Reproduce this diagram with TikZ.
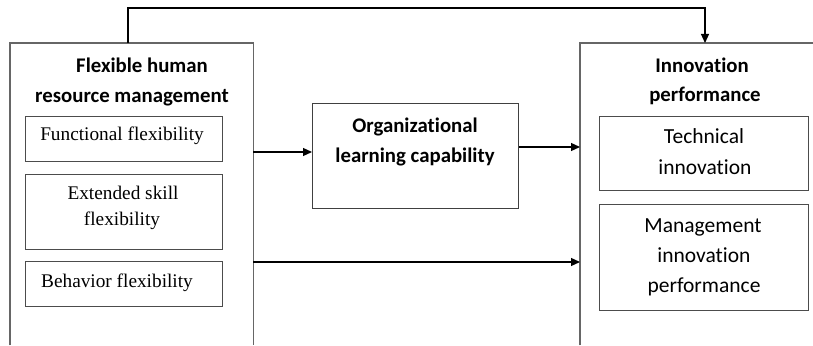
\documentclass[tikz,border=0pt]{standalone}
\usepackage{fontspec}
\setmainfont[Ligatures=NoCommon]{Liberation Serif}
\newfontfamily\carl[Ligatures=NoCommon]{Carlito}
\usetikzlibrary{arrows.meta}
\tikzset{
  outerbox/.style={draw=none, rectangle, inner sep=0pt, anchor=north west},
  outerline/.style={draw=black!60, line width=1.1pt},
  innerbox/.style={draw=black!70, line width=1.3pt, rectangle, inner sep=0pt, anchor=north west},
  midbox/.style={draw=black!75, line width=1.2pt, rectangle, inner sep=0pt, anchor=north west},
  ttl/.style={font=\carl\bfseries\fontsize{20.8}{24}\selectfont, anchor=base, inner sep=0pt},
  sertxt/.style={font=\fontsize{19.3}{23}\selectfont, anchor=base, inner sep=0pt},
  sanstxt/.style={font=\carl\fontsize{21.5}{24}\selectfont, anchor=base, inner sep=0pt},
  arr/.style={draw=black, line width=1.2pt, -{Triangle[length=9pt,width=8pt]}}
}
\begin{document}
\begin{tikzpicture}[x=1pt,y=-1pt]
\useasboundingbox[fill=white] (0,0) rectangle (813,345);
% outer boxes
\node[outerbox, minimum width=243pt, minimum height=302pt] (lbox) at (10,43) {};
\node[outerbox, minimum width=233pt, minimum height=302pt] (rbox) at (580,43) {};
\draw[outerline] (lbox.south west) -- (lbox.north west) -- (lbox.north east) -- (lbox.south east);
\draw[outerline] (rbox.south west) -- (rbox.north west) -- (rbox.north east);
% left titles
\node[ttl] (lt1) at (142,73) {Flexible human};
\node[ttl] (lt2) at (132,102) {resource management};
% left inner boxes
\node[innerbox, minimum width=197pt, minimum height=45pt] (fun) at (25,116) {};
\node[sertxt] (funt) at (122,140) {Functional flexibility};
\node[innerbox, minimum width=197pt, minimum height=75pt] (ext) at (25,174) {};
\node[sertxt] (ext1) at (123,199) {Extended skill};
\node[sertxt] (ext2) at (122,225) {flexibility};
\node[innerbox, minimum width=197pt, minimum height=45pt] (beh) at (25,261) {};
\node[sertxt] (beht) at (117,287) {Behavior flexibility};
% middle box
\node[midbox, minimum width=206pt, minimum height=105pt] (mid) at (312,103) {};
\node[ttl] (m1) at (415,132) {Organizational};
\node[ttl] (m2) at (415,162) {learning capability};
% right titles
\node[ttl] (rt1) at (702,73) {Innovation};
\node[ttl] (rt2) at (705,101) {performance};
% right inner boxes
\node[innerbox, minimum width=209pt, minimum height=74pt] (tec) at (599,116) {};
\node[sanstxt] (tec1) at (704,143) {Technical};
\node[sanstxt] (tec2) at (705,174) {innovation};
\node[innerbox, minimum width=209pt, minimum height=106pt] (man) at (599,204) {};
\node[sanstxt] (man1) at (703,232) {Management};
\node[sanstxt] (man2) at (704,262) {innovation};
\node[sanstxt] (man3) at (704,292) {performance};
% connectors
\coordinate (y1) at (0,152);
\coordinate (y2) at (0,147);
\coordinate (y3) at (0,262);
\coordinate (topL) at (128,8);
\coordinate (topR) at (705,8);
\draw[arr] (lbox.east |- y1) -- (mid.west |- y1);
\draw[arr] (mid.east |- y2) -- (rbox.west |- y2);
\draw[arr] (lbox.east |- y3) -- (rbox.west |- y3);
\draw[arr] (lbox.north -| topL) -- (topL) -- (topR) -- (rbox.north -| topR);
\end{tikzpicture}
\end{document}
